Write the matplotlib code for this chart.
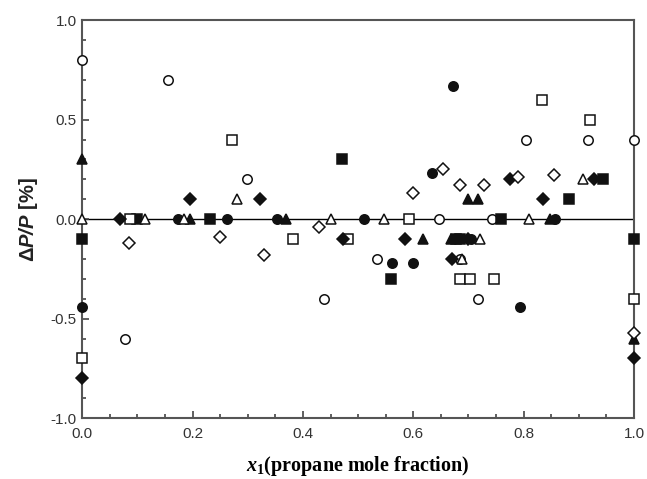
import numpy as np
import matplotlib
matplotlib.use("Agg")
import matplotlib.pyplot as plt
from matplotlib.ticker import MultipleLocator, FormatStrFormatter

plt.rcParams['font.family'] = ['Liberation Sans', 'DejaVu Sans']
plt.rcParams['mathtext.fontset'] = 'custom'
plt.rcParams['mathtext.it'] = 'Liberation Serif:italic:bold'
plt.rcParams['mathtext.rm'] = 'Liberation Serif:bold'
plt.rcParams['mathtext.sf'] = 'Liberation Sans:italic:bold'

# filled circle
fc_x = [0.0, 0.174, 0.262, 0.353, 0.51, 0.561, 0.60, 0.634, 0.672, 0.705, 0.793, 0.857]
fc_y = [-0.44, 0.0, 0.0, 0.0, 0.0, -0.22, -0.22, 0.23, 0.67, -0.1, -0.44, 0.0]
# open circle
oc_x = [0.0, 0.078, 0.156, 0.298, 0.439, 0.535, 0.647, 0.685, 0.718, 0.743, 0.805, 0.917, 1.0]
oc_y = [0.8, -0.6, 0.7, 0.2, -0.4, -0.2, 0.0, -0.2, -0.4, 0.0, 0.4, 0.4, 0.4]
# filled square
fs_x = [0.0, 0.10, 0.232, 0.471, 0.56, 0.678, 0.685, 0.759, 0.882, 0.944, 1.0]
fs_y = [-0.1, 0.0, 0.0, 0.3, -0.3, -0.1, -0.1, 0.0, 0.1, 0.2, -0.1]
# open square
os_x = [0.0, 0.087, 0.272, 0.382, 0.482, 0.592, 0.685, 0.703, 0.746, 0.833, 0.92, 1.0]
os_y = [-0.7, 0.0, 0.4, -0.1, -0.1, 0.0, -0.3, -0.3, -0.3, 0.6, 0.5, -0.4]
# filled triangle
ft_x = [0.0, 0.196, 0.37, 0.618, 0.668, 0.70, 0.717, 0.848, 1.0]
ft_y = [0.3, 0.0, 0.0, -0.1, -0.1, 0.1, 0.1, 0.0, -0.6]
# open triangle
ot_x = [0.0, 0.114, 0.185, 0.28, 0.45, 0.547, 0.688, 0.72, 0.81, 0.908]
ot_y = [0.0, 0.0, 0.0, 0.1, 0.0, 0.0, -0.2, -0.1, 0.0, 0.2]
# filled diamond
fd_x = [0.0, 0.069, 0.196, 0.322, 0.473, 0.585, 0.670, 0.70, 0.775, 0.835, 0.928, 1.0]
fd_y = [-0.8, 0.0, 0.1, 0.1, -0.1, -0.1, -0.2, -0.1, 0.2, 0.1, 0.2, -0.7]
# open diamond
od_x = [0.084, 0.25, 0.33, 0.43, 0.60, 0.654, 0.685, 0.728, 0.79, 0.855, 1.0]
od_y = [-0.12, -0.09, -0.18, -0.04, 0.13, 0.25, 0.17, 0.17, 0.21, 0.22, -0.57]

fig = plt.figure(figsize=(6.47, 4.79), dpi=100)
ax = fig.add_axes([0.127, 0.127, 0.853, 0.831])

ax.axhline(0.0, color='black', lw=1.0, zorder=1)

edge = '#111111'
def pts(x, y, marker, size, filled):
    ax.plot(x, y, linestyle='none', marker=marker, markersize=size,
            markerfacecolor=edge if filled else 'white',
            markeredgecolor=edge, markeredgewidth=1.1, clip_on=False, zorder=3)

pts(fc_x, fc_y, 'o', 6.8, True)
pts(oc_x, oc_y, 'o', 6.8, False)
pts(fs_x, fs_y, 's', 6.5, True)
pts(os_x, os_y, 's', 6.5, False)
pts(ft_x, ft_y, '^', 7.2, True)
pts(ot_x, ot_y, '^', 7.2, False)
pts(fd_x, fd_y, 'D', 6, True)
pts(od_x, od_y, 'D', 6, False)

ax.set_xlim(0, 1)
ax.set_ylim(-1, 1)
ax.xaxis.set_major_locator(MultipleLocator(0.2))
ax.xaxis.set_minor_locator(MultipleLocator(0.05))
ax.yaxis.set_major_locator(MultipleLocator(0.5))
ax.yaxis.set_minor_locator(MultipleLocator(0.1))
ax.tick_params(which='both', direction='in', top=False, right=False,
               color='#444444', width=1.2)
ax.tick_params(which='major', length=5, labelsize=11, labelcolor='#333333')
ax.tick_params(axis='y', which='major', pad=4)
ax.tick_params(axis='x', which='major', pad=6)
ax.tick_params(which='minor', length=3)
ax.xaxis.set_major_formatter(FormatStrFormatter('%.1f'))
ax.yaxis.set_major_formatter(FormatStrFormatter('%.1f'))
for s in ax.spines.values():
    s.set_color('#555555')
    s.set_linewidth(1.5)

ax.set_xlabel(r"$x_1$(propane mole fraction)", family='Liberation Serif',
              fontweight='bold', fontsize=14.5)
ax.xaxis.set_label_coords(0.5, -0.09)
ax.set_ylabel(r"Δ$\mathsf{P/P}$ [%]", fontweight='bold', fontsize=14.5,
              color='#222222')
ax.yaxis.set_label_coords(-0.076, 0.5)

fig.savefig('out.png', dpi=100)
